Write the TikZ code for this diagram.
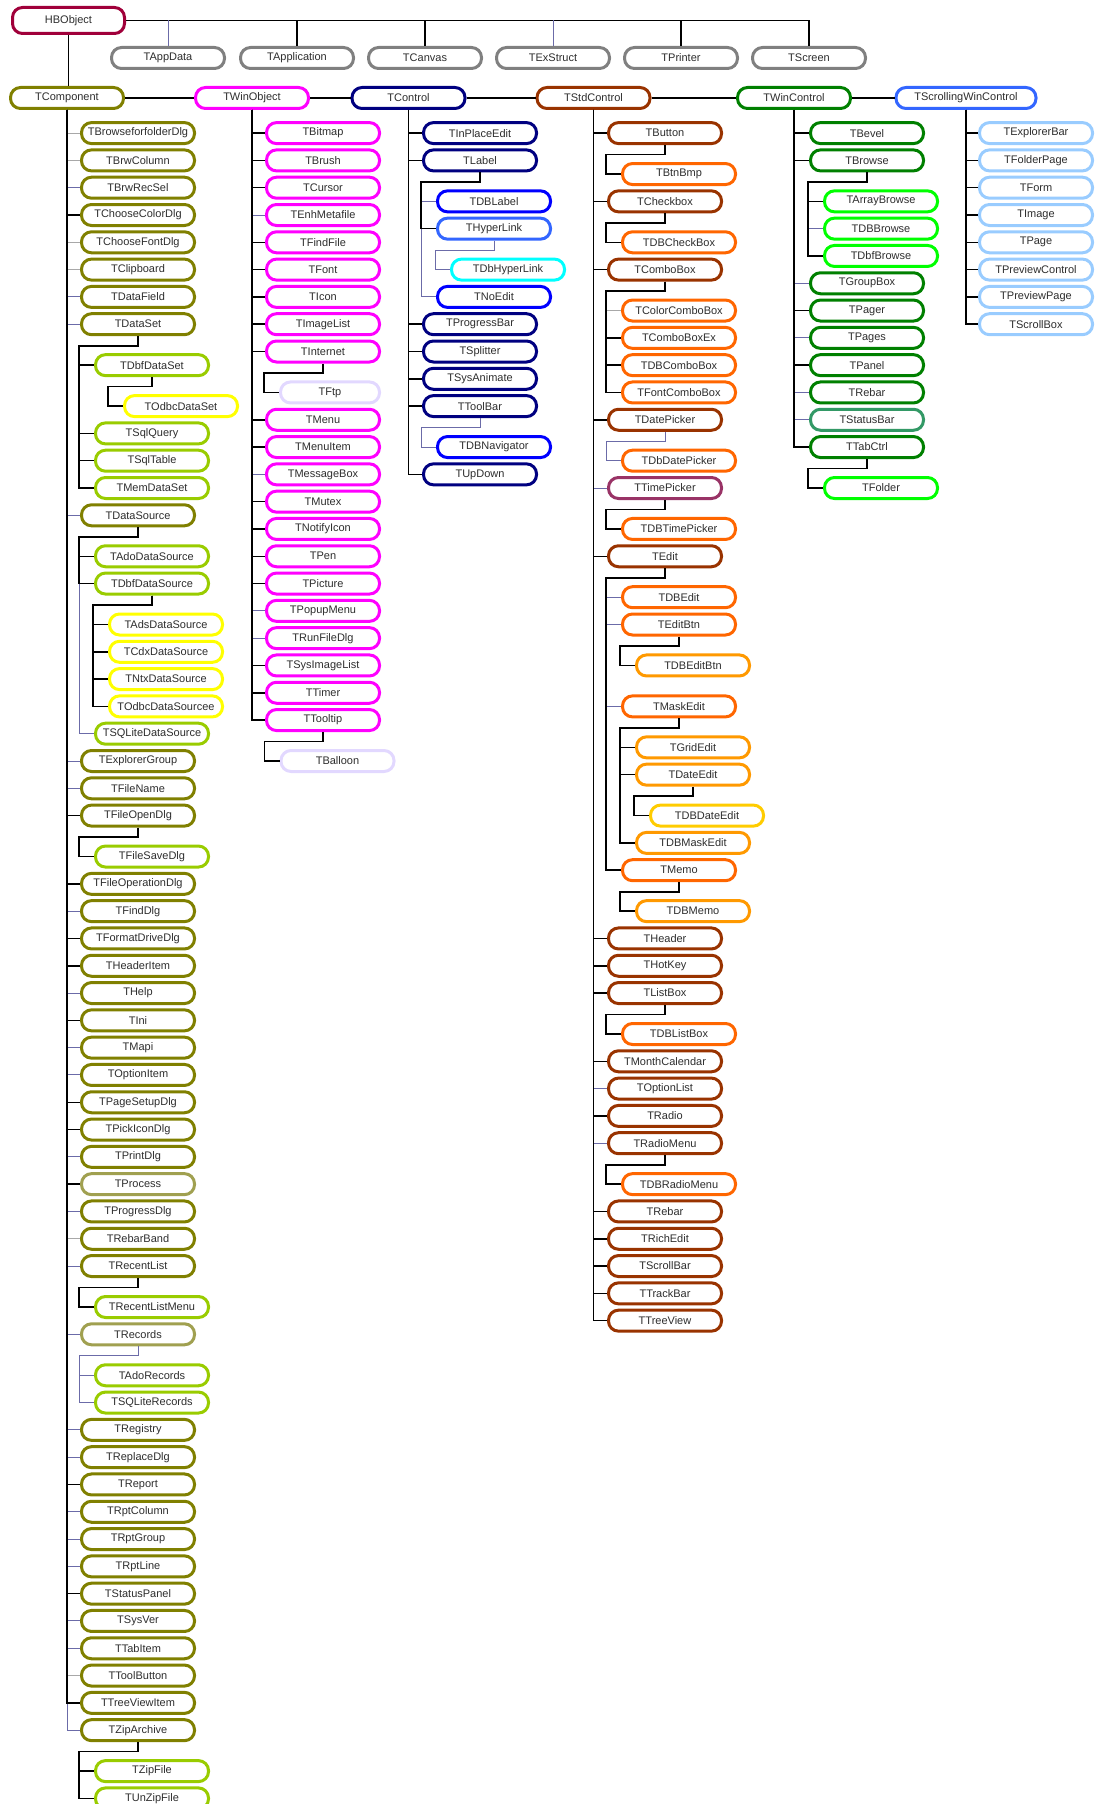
\documentclass[tikz,border=0pt]{standalone}
\usepackage{fontspec}
\setmainfont{Liberation Sans}
\usepackage{tikz}

\definecolor{txtgray}{HTML}{2E2E2E}
\definecolor{hbred}{HTML}{A0003A}
\definecolor{rowgray}{HTML}{808080}
\definecolor{cOlive}{HTML}{808000}
\definecolor{cOliveLt}{HTML}{A0A050}
\definecolor{cYelGreen}{HTML}{99CC00}
\definecolor{cYellow}{HTML}{FFFF00}
\definecolor{cMagenta}{HTML}{FF00FF}
\definecolor{cLavender}{HTML}{E2D8FF}
\definecolor{cNavy}{HTML}{000080}
\definecolor{cBlue}{HTML}{0000FF}
\definecolor{cMedBlue}{HTML}{3366FF}
\definecolor{cCyan}{HTML}{00FFFF}
\definecolor{cBrown}{HTML}{993300}
\definecolor{cOrange}{HTML}{FF6600}
\definecolor{cLtOrange}{HTML}{FF9900}
\definecolor{cGold}{HTML}{FFCC00}
\definecolor{cPlum}{HTML}{993366}
\definecolor{cGreen}{HTML}{008000}
\definecolor{cLime}{HTML}{00FF00}
\definecolor{cSeaGreen}{HTML}{339966}
\definecolor{cSky}{HTML}{99CCFF}
\definecolor{linkblue}{HTML}{6B6BA8}
\definecolor{linkgray}{HTML}{A8A8A8}

\begin{document}
\begin{tikzpicture}[x=1pt, y=-27.3pt,
  box/.style={draw, line width=3pt, rounded corners=10pt, fill=white, text=txtgray,
    minimum width=113pt, minimum height=21pt, inner sep=0pt,
    font=\fontsize{11}{13}\selectfont},
  link/.style={line width=1.5pt, black},
  bluelink/.style={line width=1pt, linkblue},
  faintlink/.style={line width=1pt, linkgray}]

\useasboundingbox (0,-4.8755) rectangle (1096,61.205);

% Root
\node[box, draw=hbred, minimum width=112pt, minimum height=26pt] (hb) at (68.5,-4.125) {HBObject};

% Second row
\foreach \n/\t/\x in {apd/TAppData/168, app/TApplication/297, cnv/TCanvas/425,
    exs/TExStruct/553, prn/TPrinter/681, scr/TScreen/809}
  \node[box, draw=rowgray] (\n) at (\x,-2.751) {\t};

% Third row
\foreach \n/\t/\x/\c in {comp/TComponent/67/cOlive, wobj/TWinObject/252/cMagenta,
    ctl/TControl/408.5/cNavy, stdc/TStdControl/593.5/cBrown, wctl/TWinControl/794/cGreen}
  \node[box, draw=\c] (\n) at (\x,-1.286) {\t};
\node[box, draw=cMedBlue, minimum width=140pt] (swc) at (966,-1.286) {TScrollingWinControl};

% TComponent column
\foreach \n/\t/\u/\c in {bff/TBrowseforfolderDlg/0/cOlive, bcol/TBrwColumn/1/cOlive,
    brs/TBrwRecSel/2/cOlive, ccd/TChooseColorDlg/3/cOlive, cfd/TChooseFontDlg/4/cOlive,
    clip/TClipboard/5/cOlive, dfld/TDataField/6/cOlive, dset/TDataSet/7/cOlive,
    dsrc/TDataSource/14/cOlive, exg/TExplorerGroup/23/cOlive, fnam/TFileName/24/cOlive,
    fod/TFileOpenDlg/25/cOlive, fopd/TFileOperationDlg/27.5/cOlive, fnd/TFindDlg/28.5/cOlive,
    fmt/TFormatDriveDlg/29.5/cOlive, hdi/THeaderItem/30.5/cOlive, hlp/THelp/31.5/cOlive,
    ini/TIni/32.5/cOlive, mapi/TMapi/33.5/cOlive, opti/TOptionItem/34.5/cOlive,
    psd/TPageSetupDlg/35.5/cOlive, pid/TPickIconDlg/36.5/cOlive, prd/TPrintDlg/37.5/cOlive,
    proc/TProcess/38.5/cOliveLt, prg/TProgressDlg/39.5/cOlive, rbb/TRebarBand/40.5/cOlive,
    rcl/TRecentList/41.5/cOlive, recs/TRecords/44/cOliveLt, reg/TRegistry/47.5/cOlive,
    rpl/TReplaceDlg/48.5/cOlive, rpt/TReport/49.5/cOlive, rcol/TRptColumn/50.5/cOlive,
    rgrp/TRptGroup/51.5/cOlive, rlin/TRptLine/52.5/cOlive, stp/TStatusPanel/53.5/cOlive,
    sysv/TSysVer/54.5/cOlive, tabi/TTabItem/55.5/cOlive, tbtn/TToolButton/56.5/cOlive,
    tvi/TTreeViewItem/57.5/cOlive, zipa/TZipArchive/58.5/cOlive}
  \node[box, draw=\c] (\n) at (138,\u) {\t};
\foreach \n/\t/\u in {dbfds/TDbfDataSet/8.5, sqlq/TSqlQuery/11, sqlt/TSqlTable/12,
    memds/TMemDataSet/13, adods/TAdoDataSource/15.5, dbfsrc/TDbfDataSource/16.5,
    sqlsrc/TSQLiteDataSource/22, fsd/TFileSaveDlg/26.5, rclm/TRecentListMenu/43,
    ador/TAdoRecords/45.5, sqlr/TSQLiteRecords/46.5, zipf/TZipFile/60, uzip/TUnZipFile/61}
  \node[box, draw=cYelGreen] (\n) at (152,\u) {\t};
\node[box, draw=cYellow] (odbcds) at (181,10) {TOdbcDataSet};
\foreach \n/\t/\u in {adssrc/TAdsDataSource/18, cdxsrc/TCdxDataSource/19,
    ntxsrc/TNtxDataSource/20, odbcsrc/TOdbcDataSourcee/21}
  \node[box, draw=cYellow] (\n) at (166,\u) {\t};

% TWinObject column
\foreach \n/\t/\u/\c in {bmp/TBitmap/0, brsh/TBrush/1, curs/TCursor/2, emf/TEnhMetafile/3,
    ffil/TFindFile/4, font/TFont/5, icon/TIcon/6, iml/TImageList/7, inet/TInternet/8,
    menu/TMenu/10.5, mitm/TMenuItem/11.5, msgb/TMessageBox/12.5, mutx/TMutex/13.5,
    ntfy/TNotifyIcon/14.5, pen/TPen/15.5, pict/TPicture/16.5, popm/TPopupMenu/17.5,
    rfd/TRunFileDlg/18.5, siml/TSysImageList/19.5, tmr/TTimer/20.5, ttip/TTooltip/21.5}
  \node[box, draw=cMagenta] (\n) at (323,\u) {\t};
\node[box, draw=cLavender, minimum width=99pt] (ftp) at (330,9.5) {TFtp};
\node[box, draw=cLavender] (baln) at (337.5,23) {TBalloon};

% TControl column
\foreach \n/\t/\u in {ipe/TInPlaceEdit/0, lbl/TLabel/1, pbar/TProgressBar/7,
    splt/TSplitter/8, sani/TSysAnimate/9, tbar/TToolBar/10, updn/TUpDown/12.5}
  \node[box, draw=cNavy] (\n) at (480,\u) {\t};
\foreach \n/\t/\u/\c in {dblbl/TDBLabel/2.5/cBlue, hlnk/THyperLink/3.5/cMedBlue,
    noed/TNoEdit/6/cBlue, dbnav/TDBNavigator/11.5/cBlue}
  \node[box, draw=\c] (\n) at (494,\u) {\t};
\node[box, draw=cCyan] (dbhl) at (508,5) {TDbHyperLink};

% TStdControl column
\foreach \n/\t/\u/\c in {btn/TButton/0/cBrown, chk/TCheckbox/2.5/cBrown, cbo/TComboBox/5/cBrown,
    dtp/TDatePicker/10.5/cBrown, tmp/TTimePicker/13/cPlum, edit/TEdit/15.5/cBrown,
    hdr/THeader/29.5/cBrown, hkey/THotKey/30.5/cBrown, lbox/TListBox/31.5/cBrown,
    mcal/TMonthCalendar/34/cBrown, optl/TOptionList/35/cBrown, rad/TRadio/36/cBrown,
    radm/TRadioMenu/37/cBrown, rbar/TRebar/39.5/cBrown, rich/TRichEdit/40.5/cBrown,
    sbar/TScrollBar/41.5/cBrown, trk/TTrackBar/42.5/cBrown, tv/TTreeView/43.5/cBrown}
  \node[box, draw=\c] (\n) at (665,\u) {\t};
\foreach \n/\t/\u in {bbmp/TBtnBmp/1.5, dbchk/TDBCheckBox/4, ccbo/TColorComboBox/6.5,
    cbox/TComboBoxEx/7.5, dbcbo/TDBComboBox/8.5, fcbo/TFontComboBox/9.5,
    dbdtp/TDbDatePicker/12, dbtmp/TDBTimePicker/14.5, dbed/TDBEdit/17, edbt/TEditBtn/18,
    mske/TMaskEdit/21, memo/TMemo/27, dblb/TDBListBox/33, dbrm/TDBRadioMenu/38.5}
  \node[box, draw=cOrange] (\n) at (679,\u) {\t};
\foreach \n/\t/\u in {dbeb/TDBEditBtn/19.5, gred/TGridEdit/22.5, dted/TDateEdit/23.5,
    dbme/TDBMaskEdit/26, dbmm/TDBMemo/28.5}
  \node[box, draw=cLtOrange] (\n) at (693,\u) {\t};
\node[box, draw=cGold] (dbde) at (707,25) {TDBDateEdit};

% TWinControl column
\foreach \n/\t/\u/\c in {bev/TBevel/0/cGreen, brw/TBrowse/1/cGreen, grpb/TGroupBox/5.5/cGreen,
    pgr/TPager/6.5/cGreen, pgs/TPages/7.5/cGreen, pnl/TPanel/8.5/cGreen,
    wrbar/TRebar/9.5/cGreen, stb/TStatusBar/10.5/cSeaGreen, tabc/TTabCtrl/11.5/cGreen}
  \node[box, draw=\c] (\n) at (867,\u) {\t};
\foreach \n/\t/\u in {abrw/TArrayBrowse/2.5, dbbrw/TDBBrowse/3.5, dbfbrw/TDbfBrowse/4.5,
    fold/TFolder/13}
  \node[box, draw=cLime] (\n) at (881,\u) {\t};

% TScrollingWinControl column
\foreach \n/\t/\u in {expb/TExplorerBar/0, fpg/TFolderPage/1, form/TForm/2, img/TImage/3,
    page/TPage/4, pctl/TPreviewControl/5, ppg/TPreviewPage/6, sbox/TScrollBox/7}
  \node[box, draw=cSky] (\n) at (1036,\u) {\t};

% Links from HBObject
\draw[link] (hb.east) -| (scr.north);
\foreach \n in {app, cnv, prn}
  \draw[link] (hb.east -| \n.north) -- (\n.north);
\foreach \n in {apd, exs}
  \draw[bluelink] (hb.east -| \n.north) -- (\n.north);
\draw[link] (hb.south) -- (hb.south |- comp.north);
\draw[link] (comp) -- (wobj) -- (ctl) -- (stdc) -- (wctl) -- (swc);

% Thin links first, black ones over them
\foreach \n in {brs, dfld, dset, dsrc, exg, fnam, fnd, hlp, mapi, opti, prd, prg, rcl,
    recs, reg, rpl, rcol, rgrp, rlin, sysv, tabi, zipa}
  \draw[bluelink] (comp.south) |- (\n.west);
\foreach \n in {bff, bcol, cfd, clip, rbb, tbtn}
  \draw[faintlink] (comp.south) |- (\n.west);
\foreach \n in {emf, msgb, popm, rfd}
  \draw[bluelink] (wobj.south) |- (\n.west);
\foreach \n in {tmp, optl, radm}
  \draw[bluelink] (stdc.south) |- (\n.west);
\foreach \n in {grpb, pgs, wrbar, stb}
  \draw[bluelink] (wctl.south) |- (\n.west);
\foreach \p/\n in {dsrc/sqlsrc, recs/ador, recs/sqlr, lbl/dblbl, lbl/noed, hlnk/dbhl,
    tbar/dbnav, dtp/dbdtp, edit/dbed, edit/edbt, edit/mske, brw/dbbrw}
  \draw[bluelink] (\p.south) -- ++(0,0.35) -| ([xshift=-15pt]\n.west) -- (\n.west);
\draw[faintlink] (cbo.south) -- ++(0,0.35) -| ([xshift=-15pt]ccbo.west) -- (ccbo.west);

\foreach \n in {ccd, fod, fopd, fmt, hdi, ini, psd, pid, proc, rpt, stp, tvi}
  \draw[link] (comp.south) |- (\n.west);
\foreach \n in {bmp, brsh, curs, ffil, font, icon, iml, inet, menu, mitm, mutx, ntfy,
    pen, pict, siml, tmr, ttip}
  \draw[link] (wobj.south) |- (\n.west);
\foreach \n in {ipe, lbl, pbar, splt, sani, tbar, updn}
  \draw[link] (ctl.south) |- (\n.west);
\foreach \n in {btn, chk, cbo, dtp, edit, hdr, hkey, lbox, mcal, rad, rbar, rich, sbar, trk, tv}
  \draw[link] (stdc.south) |- (\n.west);
\foreach \n in {bev, brw, pgr, pnl, tabc}
  \draw[link] (wctl.south) |- (\n.west);
\foreach \n in {expb, fpg, form, img, page, pctl, ppg, sbox}
  \draw[link] (swc.south) |- (\n.west);
\foreach \p/\n in {dset/dbfds, dset/sqlq, dset/sqlt, dset/memds, dbfds/odbcds,
    dsrc/adods, dsrc/dbfsrc, dbfsrc/adssrc, dbfsrc/cdxsrc, dbfsrc/ntxsrc, dbfsrc/odbcsrc,
    fod/fsd, rcl/rclm, zipa/zipf, zipa/uzip, inet/ftp, ttip/baln, lbl/hlnk,
    btn/bbmp, chk/dbchk, cbo/cbox, cbo/dbcbo, cbo/fcbo, tmp/dbtmp, edit/memo,
    edbt/dbeb, mske/gred, mske/dted, mske/dbme, dted/dbde, memo/dbmm, lbox/dblb,
    radm/dbrm, brw/abrw, brw/dbfbrw, tabc/fold}
  \draw[link] (\p.south) -- ++(0,0.35) -| ([xshift=-15pt]\n.west) -- (\n.west);
\end{tikzpicture}
\end{document}
